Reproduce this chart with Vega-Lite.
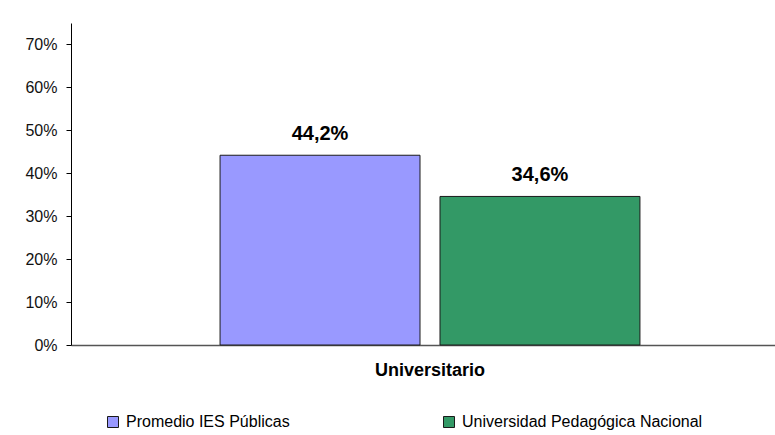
{
  "$schema": "https://vega.github.io/schema/vega-lite/v6.json",
  "autosize": "none",
  "width": 704,
  "height": 322,
  "padding": {"left": 71, "top": 23, "right": 0, "bottom": 90},
  "background": "white",
  "config": {
    "font": "Liberation Sans",
    "view": {"stroke": null},
    "locale": {"number": {"decimal": ",", "thousands": ".", "grouping": [3], "currency": ["", " €"]}}
  },
  "data": {
    "values": [
      {"nivel": "Universitario", "serie": "Promedio IES Públicas", "valor": 0.442},
      {"nivel": "Universitario", "serie": "Universidad Pedagógica Nacional", "valor": 0.346}
    ]
  },
  "encoding": {
    "x": {
      "field": "nivel", "type": "nominal",
      "scale": {"type": "band", "paddingInner": 0, "paddingOuter": 0.355, "range": [0, 718]},
      "axis": {
        "title": null, "labelAngle": 0, "ticks": false, "labelPadding": 16,
        "labelFont": "Liberation Sans", "labelFontSize": 18, "labelFontWeight": "bold", "labelColor": "#000000",
        "domainColor": "#555555", "domainWidth": 1.5
      }
    },
    "xOffset": {
      "field": "serie", "type": "nominal",
      "scale": {"paddingInner": 0.0909, "paddingOuter": 0}
    },
    "y": {
      "field": "valor", "type": "quantitative",
      "scale": {"domain": [0, 0.75], "nice": false},
      "axis": {
        "title": null, "format": ".0%", "values": [0, 0.1, 0.2, 0.3, 0.4, 0.5, 0.6, 0.7],
        "grid": false, "tickSize": 5, "tickColor": "#000000", "domainColor": "#000000",
        "labelFont": "Liberation Sans", "labelFontSize": 16, "labelColor": "#111111", "labelPadding": 9
      }
    }
  },
  "layer": [
    {
      "mark": {"type": "bar", "stroke": "#1a1a1a", "strokeWidth": 1},
      "encoding": {
        "color": {
          "field": "serie", "type": "nominal",
          "scale": {"domain": ["Promedio IES Públicas", "Universidad Pedagógica Nacional"], "range": ["#9999FF", "#339966"]},
          "legend": {
            "title": null, "orient": "none", "direction": "horizontal",
            "legendX": 34, "legendY": 391,
            "symbolType": "square", "symbolSize": 121, "symbolStrokeColor": "#1a1a1a", "symbolStrokeWidth": 1,
            "symbolOpacity": 1,
            "labelFont": "Liberation Sans", "labelFontSize": 16, "labelColor": "#000000", "labelOffset": 5,
            "columnPadding": 151, "labelLimit": 400
          }
        }
      }
    },
    {
      "mark": {"type": "text", "baseline": "alphabetic", "dy": -15, "font": "Liberation Sans", "fontSize": 20, "fontWeight": "bold", "color": "#000000"},
      "encoding": {
        "text": {"field": "valor", "type": "quantitative", "format": ".1%"}
      }
    }
  ]
}
